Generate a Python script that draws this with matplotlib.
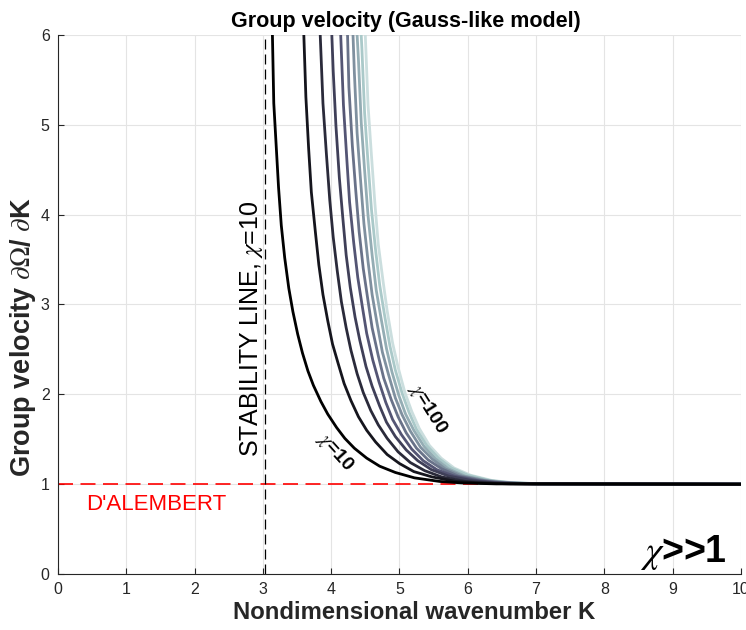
import numpy as np
import matplotlib
matplotlib.use("Agg")
import matplotlib.pyplot as plt

plt.rcParams['font.family'] = ['Liberation Sans', 'DejaVu Sans']
plt.rcParams['mathtext.fontset'] = 'stix'

# chi values of the curve family (chi=10 darkest, chi=100 lightest)
chi_values = [10, 20, 30, 40, 50, 60, 70, 80, 90, 100]

# wavenumber K and group velocity, one list per chi
k_curves = [
    [3.14, 3.16, 3.23, 3.27, 3.32, 3.38, 3.44, 3.51, 3.58, 3.66, 3.74, 3.85, 3.95, 4.08,
     4.20, 4.34, 4.52, 4.71, 4.94, 5.22, 5.59, 5.93, 6.42, 10.0],
    [3.60, 3.63, 3.67, 3.71, 3.77, 3.82, 3.88, 3.95, 4.02, 4.10, 4.19, 4.29, 4.40, 4.52,
     4.65, 4.82, 5.00, 5.21, 5.48, 5.83, 6.16, 6.63, 10.0],
    [3.84, 3.88, 3.93, 3.98, 4.03, 4.09, 4.15, 4.22, 4.29, 4.38, 4.47, 4.58, 4.69, 4.82,
     4.98, 5.16, 5.37, 5.62, 5.97, 6.29, 6.75, 10.0],
    [4.01, 4.03, 4.07, 4.12, 4.17, 4.22, 4.28, 4.35, 4.42, 4.51, 4.60, 4.71, 4.81, 4.94,
     5.10, 5.27, 5.47, 5.72, 6.06, 6.38, 6.84, 10.0],
    [4.14, 4.18, 4.23, 4.27, 4.33, 4.39, 4.46, 4.52, 4.61, 4.70, 4.80, 4.90, 5.03, 5.18,
     5.35, 5.55, 5.80, 6.14, 6.45, 6.90, 10.0],
    [4.24, 4.26, 4.31, 4.36, 4.41, 4.47, 4.54, 4.60, 4.69, 4.77, 4.88, 4.98, 5.10, 5.25,
     5.42, 5.62, 5.86, 6.20, 6.51, 6.96, 10.0],
    [4.32, 4.34, 4.38, 4.43, 4.48, 4.54, 4.60, 4.67, 4.75, 4.84, 4.94, 5.04, 5.16, 5.31,
     5.48, 5.67, 5.92, 6.25, 6.56, 7.00, 10.0],
    [4.38, 4.40, 4.44, 4.49, 4.54, 4.60, 4.66, 4.73, 4.81, 4.89, 4.99, 5.09, 5.21, 5.36,
     5.53, 5.72, 5.96, 6.29, 6.60, 7.04, 10.0],
    [4.44, 4.45, 4.49, 4.54, 4.59, 4.65, 4.71, 4.78, 4.86, 4.94, 5.04, 5.14, 5.25, 5.40,
     5.57, 5.76, 6.00, 6.33, 6.63, 7.07, 10.0],
    [4.50, 4.54, 4.59, 4.64, 4.69, 4.76, 4.82, 4.90, 4.98, 5.08, 5.18, 5.29, 5.44, 5.61,
     5.80, 6.04, 6.36, 6.67, 7.10, 10.0],
]
v_curves = [
    [6.0, 5.24, 4.30, 3.88, 3.52, 3.18, 2.92, 2.67, 2.46, 2.26, 2.10, 1.92, 1.78, 1.63,
     1.51, 1.40, 1.29, 1.20, 1.13, 1.07, 1.03, 1.013, 1.003, 1.0],
    [6.0, 5.31, 4.74, 4.25, 3.80, 3.44, 3.11, 2.82, 2.56, 2.35, 2.12, 1.93, 1.75, 1.60,
     1.47, 1.33, 1.23, 1.14, 1.08, 1.03, 1.014, 1.003, 1.0],
    [6.0, 5.24, 4.68, 4.16, 3.75, 3.37, 3.03, 2.74, 2.49, 2.23, 2.02, 1.82, 1.66, 1.51,
     1.36, 1.24, 1.15, 1.08, 1.03, 1.014, 1.004, 1.0],
    [6.0, 5.60, 4.99, 4.41, 3.97, 3.55, 3.19, 2.86, 2.60, 2.31, 2.09, 1.87, 1.69, 1.53,
     1.38, 1.26, 1.16, 1.09, 1.04, 1.015, 1.004, 1.0],
    [6.0, 5.22, 4.61, 4.14, 3.69, 3.30, 2.96, 2.68, 2.38, 2.14, 1.91, 1.72, 1.55, 1.39,
     1.26, 1.16, 1.09, 1.04, 1.015, 1.004, 1.0],
    [6.0, 5.42, 4.77, 4.27, 3.81, 3.40, 3.04, 2.74, 2.43, 2.18, 1.94, 1.75, 1.57, 1.40,
     1.27, 1.17, 1.09, 1.04, 1.015, 1.004, 1.0],
    [6.0, 5.58, 4.91, 4.39, 3.90, 3.48, 3.11, 2.80, 2.47, 2.22, 1.96, 1.77, 1.59, 1.41,
     1.28, 1.17, 1.09, 1.04, 1.015, 1.004, 1.0],
    [6.0, 5.72, 5.03, 4.49, 3.99, 3.55, 3.16, 2.85, 2.51, 2.25, 1.99, 1.78, 1.60, 1.42,
     1.28, 1.17, 1.09, 1.04, 1.016, 1.004, 1.0],
    [6.0, 5.85, 5.13, 4.58, 4.06, 3.61, 3.22, 2.89, 2.54, 2.27, 2.01, 1.80, 1.61, 1.43,
     1.29, 1.18, 1.10, 1.04, 1.016, 1.004, 1.0],
    [6.0, 5.22, 4.66, 4.13, 3.67, 3.26, 2.93, 2.57, 2.30, 2.02, 1.81, 1.62, 1.43, 1.29,
     1.18, 1.10, 1.04, 1.016, 1.004, 1.0],
]

stability_k = 3.03     # stability line for chi=10
dalembert_v = 1.0      # D'Alembert group velocity
x_ticks = [0, 1, 2, 3, 4, 5, 6, 7, 8, 9, 10]
y_ticks = [0, 1, 2, 3, 4, 5, 6]

fig = plt.figure(figsize=(7.46, 6.3), dpi=100)
ax = fig.add_axes([0.0777, 0.0889, 0.9155, 0.8556])

# reference lines
ax.plot([0, 10], [dalembert_v, dalembert_v], color='red', lw=1.2,
        ls=(0, (9, 4.5)), zorder=2)
ax.plot([stability_k, stability_k], [0, 6], color='black', lw=0.9,
        ls=(0, (8, 4)), zorder=2)

# curves, lightest first so chi=10 ends up on top
colors = plt.cm.bone(np.linspace(0, 0.85, len(chi_values)))
for i in reversed(range(len(chi_values))):
    ax.plot(k_curves[i], v_curves[i], color=colors[i], lw=2.0, zorder=3,
            solid_joinstyle='round')

ax.set_xlim(0, 10)
ax.set_ylim(0, 6)
ax.set_xticks(x_ticks)
ax.set_yticks(y_ticks)
ax.grid(True, color='#e4e4e4', lw=0.8)
ax.set_axisbelow(True)
for side in ['top', 'right']:
    ax.spines[side].set_visible(False)
for side in ['left', 'bottom']:
    ax.spines[side].set_color('#262626')
    ax.spines[side].set_linewidth(0.8)
ax.tick_params(direction='in', length=4, labelsize=11.5, colors='#262626', pad=6)

ax.set_title("Group velocity (Gauss-like model)", fontsize=15.5, fontweight='bold',
             x=0.51)
ax.set_xlabel("Nondimensional wavenumber K", fontsize=17.2, fontweight='bold',
              color='#262626')
ax.xaxis.set_label_coords(0.521, -0.05)
ax.xaxis.label.set_va('top')
ax.set_ylabel(r"Group velocity $\partial\Omega$/ $\partial$K", fontsize=19.5,
              fontweight='bold', color='#262626')
ax.yaxis.set_label_coords(-0.029, 0.44)

# annotations
ax.text(2.835, 1.30, r"STABILITY LINE, $\chi$=10", rotation=90, ha='center',
        va='bottom', fontsize=18)
ax.text(0.41, 0.77, "D'ALEMBERT", color='red', ha='left', va='center', fontsize=16)
ax.text(4.06, 1.36, r"$\chi$=10", rotation=-48, ha='center', va='center',
        fontsize=14, fontweight='bold')
ax.text(5.41, 1.84, r"$\chi$=100", rotation=-58, ha='center', va='center',
        fontsize=14, fontweight='bold')
ax.text(9.80, 0.134, r"$\chi$>>1", ha='right', va='baseline', fontsize=27,
        fontweight='bold')

fig.savefig("out.png", dpi=100)
